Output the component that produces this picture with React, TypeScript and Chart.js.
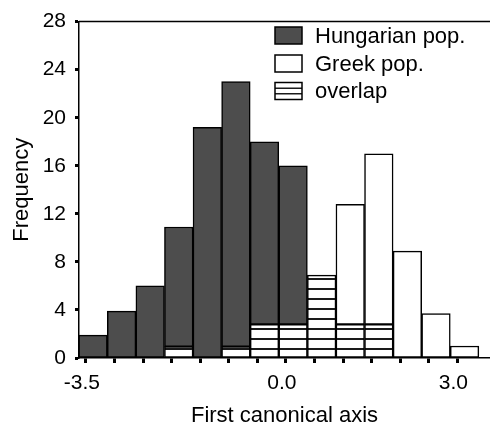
import React, { useEffect, useRef } from 'react';
import { Chart, registerables } from 'chart.js';

Chart.register(...registerables);

// ---- data ----
const binCenters = [-3.375, -2.875, -2.375, -1.875, -1.375, -0.875, -0.375, 0.125, 0.625, 1.125, 1.625, 2.125, 2.625, 3.125];
const overlapCounts = [0, 0, 0, 0.95, 0, 0.95, 2.8, 2.8, 6.9, 2.8, 2.8, 0, 0, 0];
const hungarianOnly = [1.9, 3.9, 6, 9.95, 19.2, 22.05, 15.2, 13.2, 0, 0, 0, 0, 0, 0];
const greekOnly = [0, 0, 0, 0, 0, 0, 0, 0, 0, 10, 14.2, 8.9, 3.7, 1];
const xTickValues = [-3.5, -3, -2.5, -2, -1.5, -1, -0.5, 0, 0.5, 1, 1.5, 2, 2.5, 3];
const xTickLabels = ['-3.5', '', '', '', '', '', '', '0.0', '', '', '', '', '', '3.0'];
const yTickStep = 4;
const legendLabels = ['Hungarian pop.', 'Greek pop.', 'overlap'];

const FONT = '"Liberation Sans", Arial, Helvetica, sans-serif';
const GREY = '#4d4d4d';

function makeStripePattern(): CanvasPattern | string {
  const c = document.createElement('canvas');
  c.width = 8;
  c.height = 10;
  const g = c.getContext('2d');
  if (!g) return '#fff';
  g.fillStyle = '#ffffff';
  g.fillRect(0, 0, 8, 10);
  g.fillStyle = '#1a1a1a';
  g.fillRect(0, 8, 8, 2);
  const p = g.createPattern(c, 'repeat');
  return p || '#fff';
}

const toPoints = (arr: number[]) =>
  arr.map((v, i) => ({ x: binCenters[i], y: v === 0 ? null : v }));

export default function App() {
  const ref = useRef<HTMLCanvasElement | null>(null);

  useEffect(() => {
    if (!ref.current) return;
    const stripes = makeStripePattern();

    const framePlugin = {
      id: 'frameAndLegend',
      afterDraw(chart: any) {
        const { ctx, chartArea } = chart;
        ctx.save();
        // top frame line
        ctx.strokeStyle = '#000';
        ctx.lineWidth = 1.5;
        ctx.beginPath();
        ctx.moveTo(chartArea.left, chartArea.top);
        ctx.lineTo(chartArea.right, chartArea.top);
        ctx.stroke();

        // legend
        const bx = 275;
        const bw = 27;
        const bh = 17;
        const rows = [35.5, 63.5, 91];
        ctx.font = `22px ${FONT}`;
        ctx.textBaseline = 'middle';
        ctx.textAlign = 'left';
        rows.forEach((cy, i) => {
          const top = cy - bh / 2;
          ctx.fillStyle = i === 0 ? GREY : '#fff';
          ctx.fillRect(bx, top, bw, bh);
          if (i === 2) {
            ctx.strokeStyle = '#1a1a1a';
            ctx.lineWidth = 1.5;
            ctx.beginPath();
            ctx.moveTo(bx, top + bh / 3);
            ctx.lineTo(bx + bw, top + bh / 3);
            ctx.moveTo(bx, top + (2 * bh) / 3);
            ctx.lineTo(bx + bw, top + (2 * bh) / 3);
            ctx.stroke();
          }
          ctx.strokeStyle = '#000';
          ctx.lineWidth = 1.5;
          ctx.strokeRect(bx, top, bw, bh);
          ctx.fillStyle = '#000';
          ctx.fillText(legendLabels[i], 315, cy + 1);
        });
        ctx.restore();
      },
    };

    const chart = new Chart(ref.current, {
      type: 'bar',
      data: {
        datasets: [
          {
            label: legendLabels[2],
            data: toPoints(overlapCounts) as any,
            backgroundColor: stripes as any,
            borderColor: '#000',
            borderWidth: 1.5,
            borderSkipped: false,
          },
          {
            label: legendLabels[0],
            data: toPoints(hungarianOnly) as any,
            backgroundColor: GREY,
            borderColor: '#000',
            borderWidth: 1.5,
            borderSkipped: false,
          },
          {
            label: legendLabels[1],
            data: toPoints(greekOnly) as any,
            backgroundColor: '#ffffff',
            borderColor: '#000',
            borderWidth: 1.5,
            borderSkipped: false,
          },
        ],
      },
      options: {
        responsive: false,
        animation: false,
        events: [],
        layout: { padding: { top: 18, right: 0, left: 0, bottom: 0 } },
        datasets: {
          bar: { barPercentage: 1, categoryPercentage: 1 },
        },
        plugins: {
          legend: { display: false },
          tooltip: { enabled: false },
        },
        scales: {
          x: {
            type: 'linear',
            min: -3.62,
            max: 3.57,
            offset: false,
            stacked: true,
            grid: {
              offset: false,
              drawOnChartArea: false,
              drawTicks: true,
              tickLength: 5,
              tickWidth: 3,
              tickColor: '#000',
            },
            border: { display: true, color: '#000', width: 1.5 },
            ticks: {
              autoSkip: false,
              maxRotation: 0,
              minRotation: 0,
              padding: 8,
              labelOffset: -4,
              color: '#000',
              font: { size: 21, family: FONT },
              callback: (_v: any, i: number) => xTickLabels[i],
            },
            afterBuildTicks: (scale: any) => {
              scale.ticks = xTickValues.map((v) => ({ value: v }));
            },
            afterFit: (scale: any) => {
              scale.height = 66;
            },
            title: {
              display: true,
              text: 'First canonical axis',
              color: '#000',
              font: { size: 22, family: FONT, lineHeight: 0.7 },
              padding: { top: 0, bottom: 0 },
            },
          },
          y: {
            type: 'linear',
            min: 0,
            max: 28,
            stacked: true,
            grid: {
              drawOnChartArea: false,
              drawTicks: true,
              tickLength: 4,
              tickWidth: 3,
              tickColor: '#000',
            },
            border: { display: true, color: '#000', width: 1.5 },
            ticks: {
              stepSize: yTickStep,
              padding: 9,
              color: '#000',
              font: { size: 21, family: FONT },
            },
            afterFit: (scale: any) => {
              scale.width = 79;
            },
            title: {
              display: true,
              text: 'Frequency',
              color: '#000',
              font: { size: 22, family: FONT, lineHeight: 1 },
              padding: { top: 11, bottom: 0 },
            },
          },
        },
      },
      plugins: [framePlugin],
    } as any);

    return () => chart.destroy();
  }, []);

  return (
    <div style={{ position: 'absolute', left: 0, top: 0, width: 490, height: 424 }}>
      <canvas ref={ref} width={490} height={424} style={{ display: 'block' }} />
    </div>
  );
}
